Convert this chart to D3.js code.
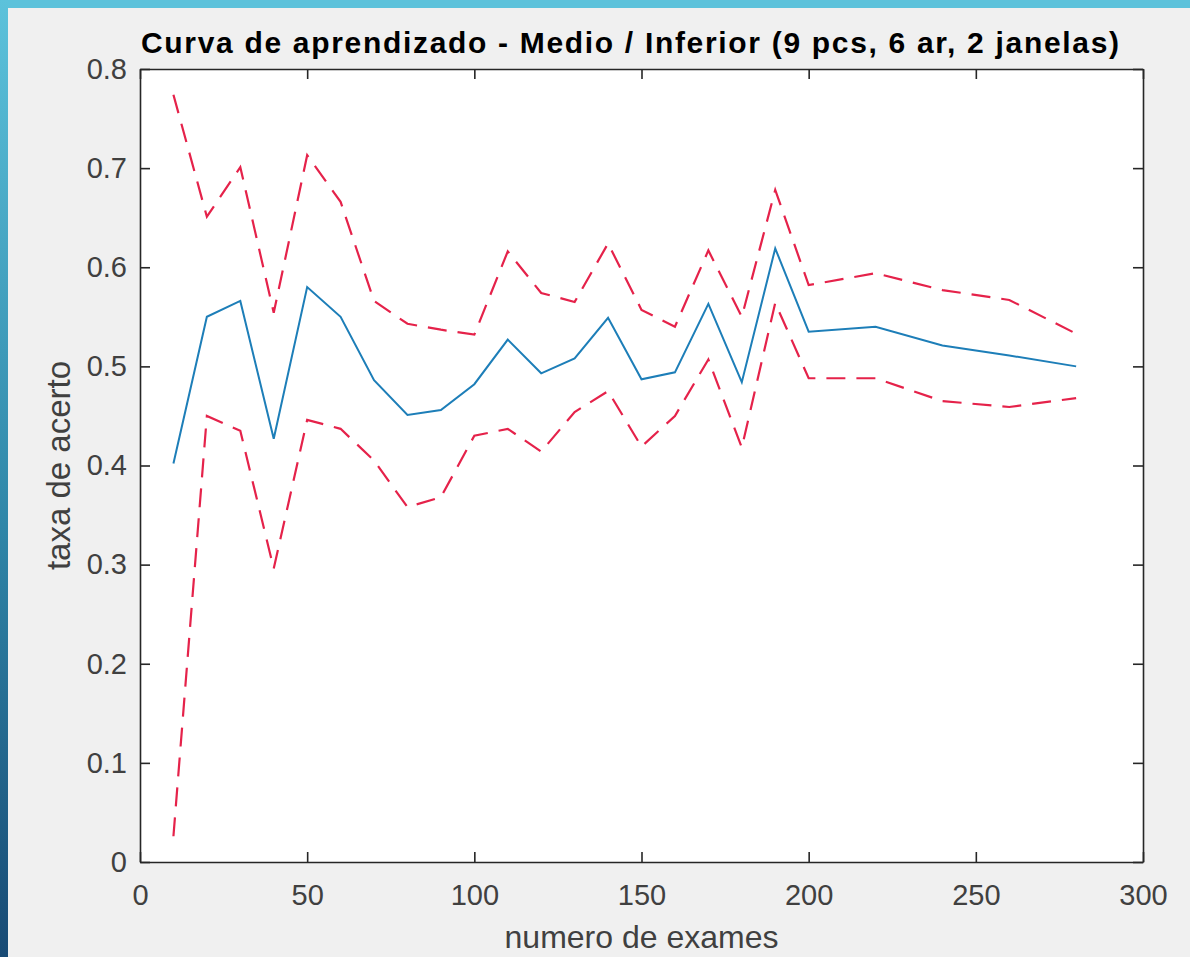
<!DOCTYPE html>
<html>
<head>
<meta charset="utf-8">
<script src="https://cdn.jsdelivr.net/npm/d3@7"></script>
<style>
  body { margin: 0; background: #f0f0f0; }
  .chart { width: 1190px; height: 957px; }
  text { font-family: "Liberation Sans", Arial, sans-serif; }
</style>
</head>
<body>
<div class="chart"></div>
<script>
/* DATA */
var exames = [10, 20, 30, 40, 50, 60, 70, 80, 90, 100, 110, 120, 130, 140, 150, 160, 170, 180, 190, 200, 220, 240, 260, 280];
var media = [0.402, 0.550, 0.566, 0.427, 0.580, 0.550, 0.486, 0.451, 0.456, 0.482, 0.527, 0.493, 0.508, 0.549, 0.487, 0.494, 0.563, 0.484, 0.619, 0.535, 0.540, 0.521, 0.511, 0.500];
var superior = [0.774, 0.651, 0.701, 0.554, 0.713, 0.666, 0.566, 0.543, 0.537, 0.532, 0.616, 0.574, 0.565, 0.624, 0.557, 0.540, 0.617, 0.550, 0.678, 0.582, 0.594, 0.577, 0.567, 0.533];
var inferior = [0.026, 0.450, 0.435, 0.296, 0.446, 0.437, 0.405, 0.358, 0.368, 0.430, 0.437, 0.414, 0.454, 0.475, 0.419, 0.450, 0.507, 0.418, 0.564, 0.488, 0.488, 0.465, 0.459, 0.468];
var xTicks = [0, 50, 100, 150, 200, 250, 300];
var yTicks = [0, 0.1, 0.2, 0.3, 0.4, 0.5, 0.6, 0.7, 0.8];

var target = document.querySelector(".chart");
var W = 1190, H = 957;
var margin = { top: 69, right: 47, bottom: 95, left: 140 };
var width = W - margin.left - margin.right;
var height = H - margin.top - margin.bottom;

var xScale = d3.scaleLinear().domain([0, 300]).range([0, width]);
var yScale = d3.scaleLinear().domain([0, 0.8]).range([height, 0]);

var svg = d3.select(target).append("svg")
    .attr("width", W)
    .attr("height", H);

// blue frame on the top and left edges
var defs = svg.append("defs");
var grad = defs.append("linearGradient")
    .attr("id", "frame")
    .attr("x1", 0).attr("y1", 0).attr("x2", 0).attr("y2", 1);
grad.append("stop").attr("offset", "0%").attr("stop-color", "#5cc2db");
grad.append("stop").attr("offset", "55%").attr("stop-color", "#2f86a8");
grad.append("stop").attr("offset", "100%").attr("stop-color", "#184a74");

svg.append("rect").attr("width", W).attr("height", H).attr("fill", "#f0f0f0");
svg.append("rect").attr("width", W).attr("height", 8).attr("fill", "#5cc2db");
svg.append("rect").attr("width", 8).attr("height", H).attr("fill", "url(#frame)");

var g = svg.append("g")
    .attr("transform", "translate(" + margin.left + "," + margin.top + ")");

g.append("rect")
    .attr("width", width)
    .attr("height", height)
    .attr("fill", "#fff");

// lines
var line = function(vals) {
    return d3.line()
        .x(function(d, i) { return xScale(exames[i]); })
        .y(function(d) { return yScale(d); })(vals);
};

g.append("path")
    .attr("d", line(superior))
    .attr("fill", "none")
    .attr("stroke", "#e5224a")
    .attr("stroke-width", 2.2)
    .attr("stroke-dasharray", "19,11");

g.append("path")
    .attr("d", line(inferior))
    .attr("fill", "none")
    .attr("stroke", "#e5224a")
    .attr("stroke-width", 2.2)
    .attr("stroke-dasharray", "19,11");

g.append("path")
    .attr("d", line(media))
    .attr("fill", "none")
    .attr("stroke", "#1d7eb8")
    .attr("stroke-width", 2);

// axes, ticks pointing inward like matlab
function styleAxis(sel) {
    sel.selectAll("path.domain").attr("stroke", "#262626").attr("stroke-width", 1.6);
    sel.selectAll(".tick line").attr("stroke", "#262626").attr("stroke-width", 1.6);
    sel.selectAll(".tick text").attr("fill", "#404040").style("font-size", "29px");
}

g.append("g")
    .attr("transform", "translate(0," + height + ")")
    .call(d3.axisBottom(xScale).tickValues(xTicks).tickSize(-10).tickSizeOuter(0).tickPadding(22).tickFormat(d3.format("d")))
    .call(styleAxis);

g.append("g")
    .call(d3.axisTop(xScale).tickValues(xTicks).tickSize(-10).tickSizeOuter(0).tickFormat(""))
    .call(styleAxis);

g.append("g")
    .call(d3.axisLeft(yScale).tickValues(yTicks).tickSize(-10).tickSizeOuter(0).tickPadding(13).tickFormat(function(d) { return d === 0 ? "0" : d3.format(".1f")(d); }))
    .call(styleAxis);

g.append("g")
    .attr("transform", "translate(" + width + ",0)")
    .call(d3.axisRight(yScale).tickValues(yTicks).tickSize(-10).tickSizeOuter(0).tickFormat(""))
    .call(styleAxis);

// title and labels
svg.append("text")
    .attr("x", 630)
    .attr("y", 53)
    .attr("text-anchor", "middle")
    .attr("fill", "#000")
    .attr("textLength", 978)
    .attr("lengthAdjust", "spacing")
    .style("font-size", "30px")
    .style("font-weight", "bold")
    .text("Curva de aprendizado - Medio / Inferior (9 pcs, 6 ar, 2 janelas)");

svg.append("text")
    .attr("x", margin.left + width / 2)
    .attr("y", 948)
    .attr("text-anchor", "middle")
    .attr("fill", "#404040")
    .style("font-size", "32px")
    .text("numero de exames");

svg.append("text")
    .attr("transform", "translate(70," + (margin.top + height / 2) + ") rotate(-90)")
    .attr("text-anchor", "middle")
    .attr("fill", "#404040")
    .style("font-size", "33px")
    .text("taxa de acerto");
</script>
</body>
</html>
